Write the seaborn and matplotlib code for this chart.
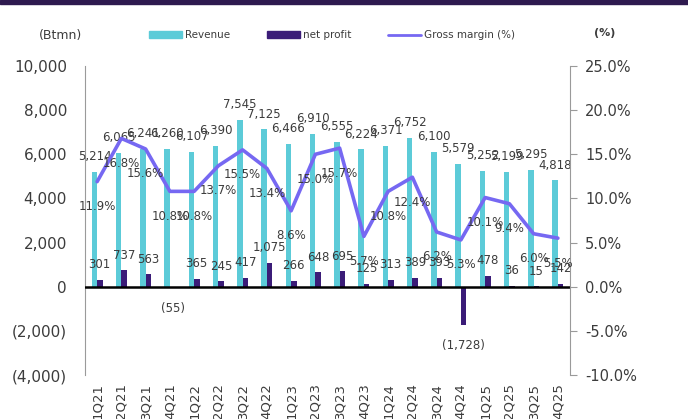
import numpy as np
import pandas as pd
import seaborn as sns
import matplotlib.pyplot as plt
from matplotlib.patches import Rectangle, Patch
from matplotlib.lines import Line2D
from matplotlib.ticker import FuncFormatter

quarters = ['1Q21', '2Q21', '3Q21', '4Q21', '1Q22', '2Q22', '3Q22', '4Q22',
            '1Q23', '2Q23', '3Q23', '4Q23', '1Q24', '2Q24', '3Q24', '4Q24',
            '1Q25', '2Q25', '3Q25', '4Q25']
revenue = [5214, 6065, 6241, 6260, 6107, 6390, 7545, 7125, 6466, 6910,
           6555, 6224, 6371, 6752, 6100, 5579, 5252, 5199, 5295, 4818]
net_profit = [301, 737, 563, -55, 365, 245, 417, 1075, 266, 648,
              695, 125, 313, 389, 393, -1728, 478, 36, 15, 142]
gross_margin = [11.9, 16.8, 15.6, 10.8, 10.8, 13.7, 15.5, 13.4, 8.6, 15.0,
                15.7, 5.7, 10.8, 12.4, 6.2, 5.3, 10.1, 9.4, 6.0, 5.5]

c_rev = '#5ccbd8'
c_np = '#3b1c78'
c_gm = '#7668f2'
txt = '#3c3c3c'

sns.set_style('white')
plt.rcParams['font.family'] = ['DejaVu Sans']

df = pd.DataFrame({
    'quarter': quarters * 2,
    'series': ['Revenue'] * len(quarters) + ['net profit'] * len(quarters),
    'value': revenue + net_profit,
})

fig = plt.figure(figsize=(6.88, 4.19), dpi=100)
ax = fig.add_axes([85 / 688, 44 / 419, 485 / 688, 309 / 419])

sns.barplot(data=df, x='quarter', y='value', hue='series',
            palette={'Revenue': c_rev, 'net profit': c_np},
            width=0.46, errorbar=None, legend=False, linewidth=0,
            saturation=1, ax=ax)
ax.set_ylim(-4000, 10000)
ax.set_yticks(range(-4000, 10001, 2000))
ax.yaxis.set_major_formatter(FuncFormatter(
    lambda v, p: f'({abs(v):,.0f})' if v < 0 else f'{v:,.0f}'))
ax.axhline(0, color='black', lw=1.8, zorder=3)
ax.set_xlabel('')
ax.set_ylabel('')
for s in ['top', 'bottom', 'right']:
    ax.spines[s].set_visible(False)
ax.spines['left'].set_color('#9a9a9a')
ax.tick_params(axis='y', length=0, pad=13, labelsize=11, labelcolor=txt)
ax.tick_params(axis='x', length=0, pad=6, labelsize=9.5, labelcolor=txt,
               labelrotation=90)

x = np.arange(len(quarters))
for i in x:
    ax.annotate(f'{revenue[i]:,}', (i - 0.11, revenue[i]), xytext=(0, 11),
                textcoords='offset points', ha='center', va='center',
                fontsize=8.5, color=txt)
    v = net_profit[i]
    lab = f'({abs(v):,})' if v < 0 else f'{v:,}'
    ax.annotate(lab, (i + 0.11, v), xytext=(0, 11 if v >= 0 else -15),
                textcoords='offset points', ha='center', va='center',
                fontsize=8.5, color=txt)

ax2 = ax.twinx()
sns.lineplot(x=x, y=gross_margin, color=c_gm, lw=2.6, ax=ax2)
ax2.set_ylim(-10, 25)
ax2.set_yticks(range(-10, 26, 5))
ax2.yaxis.set_major_formatter(FuncFormatter(lambda v, p: f'{v:.1f}%'))
ax2.set_xlim(-0.5, len(quarters) - 0.5)
for s in ['top', 'bottom', 'left']:
    ax2.spines[s].set_visible(False)
ax2.spines['right'].set_color('#9a9a9a')
ax2.tick_params(axis='y', length=5, color='#9a9a9a', pad=6, labelsize=10.5,
                labelcolor=txt)
for i in x:
    ax2.annotate(f'{gross_margin[i]:.1f}%', (i, gross_margin[i]),
                 xytext=(0, -18), textcoords='offset points', ha='center',
                 va='center', fontsize=8.5, color=txt)

# header band and legend
fig.add_artist(Rectangle((0, 1 - 4 / 419), 1, 4 / 419,
                         transform=fig.transFigure, color='#2e1a4f'))
fig.text(60 / 688, 1 - 35 / 419, '(Btmn)', ha='center', va='center',
         fontsize=9, color=txt)
fig.text(605 / 688, 1 - 33 / 419, '(%)', ha='center', va='center',
         fontsize=8, fontweight='bold', color=txt)
handles = [Patch(color=c_rev), Patch(color=c_np),
           Line2D([], [], color=c_gm, lw=2)]
fig.legend(handles, ['Revenue', 'net profit', 'Gross margin (%)'],
           loc='center', bbox_to_anchor=(332 / 688, 1 - 35 / 419), ncol=3,
           frameon=False, fontsize=7.5, handlelength=3.2, handleheight=0.6,
           handletextpad=0.3, columnspacing=3.5, labelcolor=txt)

fig.savefig('out.png', dpi=100)
